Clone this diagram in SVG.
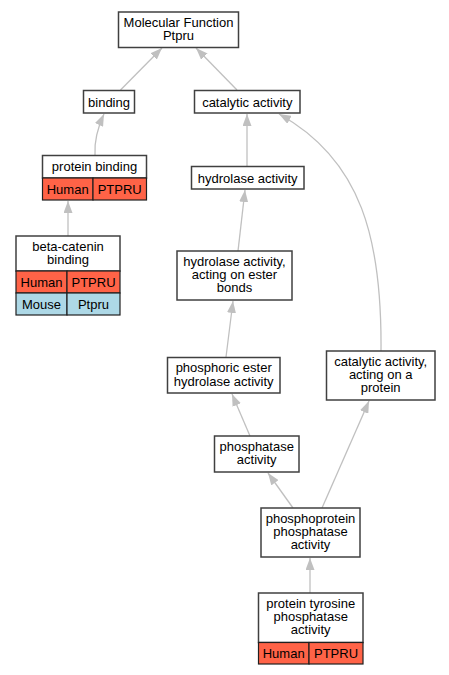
<svg xmlns="http://www.w3.org/2000/svg" width="449" height="675" viewBox="0 0 449 675">
<style>
.bg{fill:#ffffff}
.box{fill:#ffffff;stroke:#404040;stroke-width:1.5}
.hu{fill:#ff6347;stroke:#202020;stroke-width:1.2}
.mo{fill:#add8e6;stroke:#202020;stroke-width:1.2}
text{font-family:"Liberation Sans",Arial,sans-serif;font-size:13px;fill:#000;text-anchor:middle}
.e{fill:none;stroke:#c0c0c0;stroke-width:1.3}
</style>
<defs>
<marker id="ah" markerUnits="userSpaceOnUse" markerWidth="12" markerHeight="9" viewBox="0 0 12 9" refX="12" refY="4.5" orient="auto">
<path d="M0,0 L12,4.5 L0,9 z" fill="#c0c0c0"/>
</marker>
</defs>
<rect class="bg" x="0" y="0" width="449" height="675"/>
<g id="edges">
<path class="e" d="M120.5,90 L162,48" marker-end="url(#ah)"/>
<path class="e" d="M237,90 L196,48" marker-end="url(#ah)"/>
<path class="e" d="M95,155 C94,140 98,127 104,114" marker-end="url(#ah)"/>
<path class="e" d="M247,167 L247,114" marker-end="url(#ah)"/>
<path class="e" d="M68,236 L68,201" marker-end="url(#ah)"/>
<path class="e" d="M238,251 L245,190" marker-end="url(#ah)"/>
<path class="e" d="M226,357 L233,301" marker-end="url(#ah)"/>
<path class="e" d="M250,436 L232,394" marker-end="url(#ah)"/>
<path class="e" d="M293,508 L268,473" marker-end="url(#ah)"/>
<path class="e" d="M322,508 L369,401" marker-end="url(#ah)"/>
<path class="e" d="M310,593 L310,558" marker-end="url(#ah)"/>
<path class="e" d="M381,351 C382,240 362,160 279,114" marker-end="url(#ah)"/>
</g>
<g id="mf">
<rect class="box" x="118.5" y="12" width="120" height="35.5"/>
<text x="178.5" y="27">Molecular Function</text>
<text x="178.5" y="40">Ptpru</text>
</g>
<g id="binding">
<rect class="box" x="83.5" y="90.5" width="51" height="22.5"/>
<text x="109" y="106.5">binding</text>
</g>
<g id="catalytic">
<rect class="box" x="194.5" y="90.5" width="105.5" height="22.5"/>
<text x="247.3" y="106.5">catalytic activity</text>
</g>
<g id="protein-binding">
<rect class="box" x="42.5" y="155.5" width="104" height="22.5"/>
<text x="94.5" y="171">protein binding</text>
<rect class="hu" x="42.5" y="178" width="50.5" height="22"/>
<rect class="hu" x="93" y="178" width="53.5" height="22"/>
<text x="67.7" y="194">Human</text>
<text x="119.7" y="194">PTPRU</text>
</g>
<g id="hydrolase">
<rect class="box" x="191.5" y="166.5" width="112.5" height="22.5"/>
<text x="247.7" y="182.5">hydrolase activity</text>
</g>
<g id="beta-catenin">
<rect class="box" x="16" y="236" width="104" height="35"/>
<text x="68" y="251">beta-catenin</text>
<text x="68" y="264">binding</text>
<rect class="hu" x="16" y="271" width="51" height="22"/>
<rect class="hu" x="67" y="271" width="53" height="22"/>
<text x="41.5" y="287">Human</text>
<text x="93.5" y="287">PTPRU</text>
<rect class="mo" x="16" y="293" width="51" height="22"/>
<rect class="mo" x="67" y="293" width="53" height="22"/>
<text x="41.5" y="309">Mouse</text>
<text x="93.5" y="309">Ptpru</text>
</g>
<g id="ester-bonds">
<rect class="box" x="177" y="251" width="115" height="49"/>
<text x="234.5" y="266">hydrolase activity,</text>
<text x="234.5" y="279">acting on ester</text>
<text x="234.5" y="292">bonds</text>
</g>
<g id="phosphoric">
<rect class="box" x="167.5" y="357.5" width="112.5" height="35.5"/>
<text x="223.7" y="372">phosphoric ester</text>
<text x="223.7" y="385.5">hydrolase activity</text>
</g>
<g id="cat-protein">
<rect class="box" x="326.5" y="351" width="108.5" height="49"/>
<text x="380.7" y="366">catalytic activity,</text>
<text x="380.7" y="379">acting on a</text>
<text x="380.7" y="392">protein</text>
</g>
<g id="phosphatase">
<rect class="box" x="214.5" y="436" width="84.5" height="36"/>
<text x="256.7" y="451">phosphatase</text>
<text x="256.7" y="464">activity</text>
</g>
<g id="phosphoprotein">
<rect class="box" x="261" y="508" width="99" height="49"/>
<text x="310.5" y="523">phosphoprotein</text>
<text x="310.5" y="536">phosphatase</text>
<text x="310.5" y="549">activity</text>
</g>
<g id="tyrosine">
<rect class="box" x="258.5" y="593" width="104.5" height="49.5"/>
<text x="310.7" y="608">protein tyrosine</text>
<text x="310.7" y="621">phosphatase</text>
<text x="310.7" y="634">activity</text>
<rect class="hu" x="258.5" y="642.5" width="50.5" height="21.5"/>
<rect class="hu" x="309" y="642.5" width="54" height="21.5"/>
<text x="283.7" y="658">Human</text>
<text x="336" y="658">PTPRU</text>
</g>
</svg>
